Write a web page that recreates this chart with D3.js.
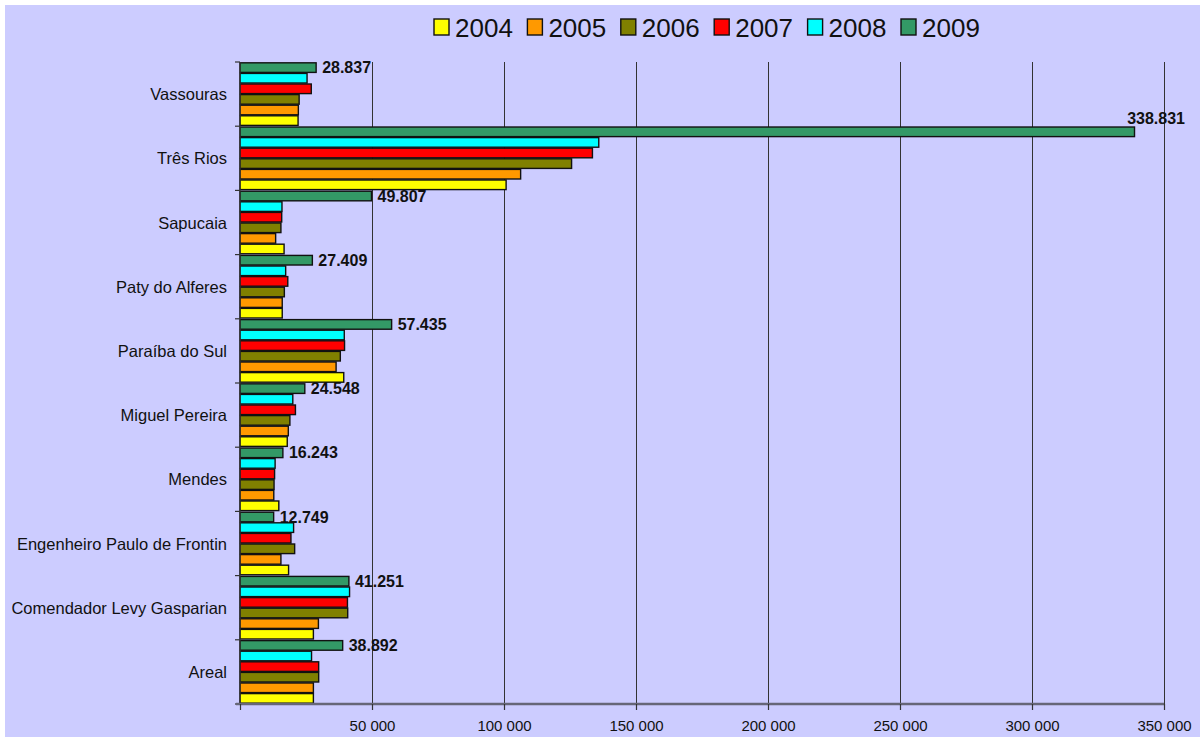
<!DOCTYPE html>
<html>
<head>
<meta charset="utf-8">
<script src="https://cdn.jsdelivr.net/npm/d3@7/dist/d3.min.js"></script>
<style>
  html, body { margin: 0; padding: 0; background: #ffffff; }
  svg { display: block; font-family: "Liberation Sans", Arial, sans-serif; }
</style>
</head>
<body>
<svg id="chart" width="1200" height="737"></svg>
<script>
// Municipalities, top to bottom
const municipios = [
  "Vassouras", "Três Rios", "Sapucaia", "Paty do Alferes", "Paraíba do Sul",
  "Miguel Pereira", "Mendes", "Engenheiro Paulo de Frontin",
  "Comendador Levy Gasparian", "Areal"
];
const anos = ["2004", "2005", "2006", "2007", "2008", "2009"];
const cores = ["#FFFF00", "#FF9900", "#808000", "#FF0000", "#00FFFF", "#339966"];

// Values per year, in the same order as municipios
const v2004 = [22000, 100800, 16700, 16000, 39300, 17900, 14700, 18400, 27800, 27800];
const v2005 = [22100, 106300, 13500, 16000, 36400, 18300, 12800, 15500, 29700, 27800];
const v2006 = [22400, 125600, 15500, 16800, 38000, 18900, 12900, 20700, 40800, 29800];
const v2007 = [27000, 133500, 15800, 18100, 39600, 21000, 13100, 19300, 40700, 29800];
const v2008 = [25400, 135900, 15900, 17300, 39500, 20000, 13300, 20300, 41500, 27100];
const v2009 = [28837, 338831, 49807, 27409, 57435, 24548, 16243, 12749, 41251, 38892];
const valores = [v2004, v2005, v2006, v2007, v2008, v2009];

const xTicks = [0, 50000, 100000, 150000, 200000, 250000, 300000, 350000];

const svg = d3.select("#chart");
const W = 1200, H = 737;
const plot = { left: 240, right: 1164, top: 62, bottom: 704 };

// background panel
svg.append("rect").attr("x", 5).attr("y", 5).attr("width", W - 5).attr("height", H - 5)
  .attr("fill", "#CCCCFF");

const x = d3.scaleLinear().domain([0, 350000]).range([plot.left, plot.right]);
const y = d3.scaleBand().domain(municipios).range([plot.top, plot.bottom]).paddingInner(0).paddingOuter(0);
// 2009 on top, 2004 at the bottom of each group
const yInner = d3.scaleBand().domain(anos.slice().reverse())
  .range([0, y.bandwidth()]).paddingInner(0).paddingOuter(0.03);

// vertical gridlines
svg.append("g").selectAll("line").data(xTicks.slice(1)).join("line")
  .attr("x1", d => x(d)).attr("x2", d => x(d))
  .attr("y1", plot.top).attr("y2", plot.bottom)
  .attr("stroke", "#333333").attr("stroke-width", 1).attr("shape-rendering", "crispEdges");

// bars
const rows = [];
municipios.forEach((m, i) => {
  anos.forEach((a, j) => rows.push({ m, a, j, v: valores[j][i] }));
});
svg.append("g").selectAll("rect").data(rows).join("rect")
  .attr("x", x(0))
  .attr("y", d => y(d.m) + yInner(d.a) + 0.5)
  .attr("width", d => x(d.v) - x(0))
  .attr("height", yInner.bandwidth() - 1)
  .attr("fill", d => cores[d.j])
  .attr("stroke", "#111111").attr("stroke-width", 1.4);

// value labels for 2009
const fmt = v => d3.format(",")(v).replace(/,/g, ".");
const labelG = svg.append("g").attr("font-weight", "bold").attr("font-size", 16).attr("fill", "#111");
municipios.forEach((m, i) => {
  const v = v2009[i];
  const yc = y(m) + yInner("2009") + yInner.bandwidth() / 2;
  const t = labelG.append("text").text(fmt(v)).attr("dominant-baseline", "central");
  const w = t.node().getComputedTextLength();
  let lx = x(v) + 6, ly = yc;
  if (lx + w > 1185) { lx = 1185 - w; ly = yc - 13; }
  t.attr("x", lx).attr("y", ly);
});

// left axis line and ticks at category boundaries
svg.append("line").attr("x1", plot.left).attr("x2", plot.left)
  .attr("y1", plot.top).attr("y2", plot.bottom)
  .attr("stroke", "#333").attr("stroke-width", 1.2);
const bounds = municipios.map(m => y(m)).concat([plot.bottom]);
svg.append("g").selectAll("line").data(bounds).join("line")
  .attr("x1", plot.left - 5).attr("x2", plot.left)
  .attr("y1", d => d).attr("y2", d => d)
  .attr("stroke", "#333").attr("stroke-width", 1.2);

// category labels
svg.append("g").selectAll("text").data(municipios).join("text")
  .attr("x", 227).attr("y", d => y(d) + y.bandwidth() / 2)
  .attr("text-anchor", "end").attr("dominant-baseline", "central")
  .attr("font-size", 16.5).attr("fill", "#111")
  .text(d => d);

// bottom axis
const xAxis = d3.axisBottom(x).tickValues(xTicks).tickSize(6)
  .tickFormat(d => d === 0 ? "" : d3.format(",")(d).replace(/,/g, " "));
const ax = svg.append("g").attr("transform", `translate(0,${plot.bottom})`).call(xAxis);
ax.select(".domain").attr("stroke", "#666677").attr("stroke-width", 2.5)
  .attr("d", `M${plot.left - 4},0H${plot.right}`);
ax.selectAll(".tick line").attr("stroke", "#333").attr("stroke-width", 1.2);
ax.selectAll(".tick text").attr("font-size", 15).attr("fill", "#111")
  .attr("font-family", "Liberation Sans, Arial, sans-serif").attr("dy", "0.95em").attr("y", 13);

// legend
const leg = svg.append("g");
anos.forEach((a, j) => {
  const lx = 434 + j * 93.4;
  leg.append("rect").attr("x", lx).attr("y", 19).attr("width", 15).attr("height", 16)
    .attr("fill", cores[j]).attr("stroke", "#111").attr("stroke-width", 1.4);
  leg.append("text").attr("x", lx + 21).attr("y", 28).attr("dominant-baseline", "central")
    .attr("font-size", 26).attr("fill", "#111").text(a);
});
</script>
</body>
</html>
